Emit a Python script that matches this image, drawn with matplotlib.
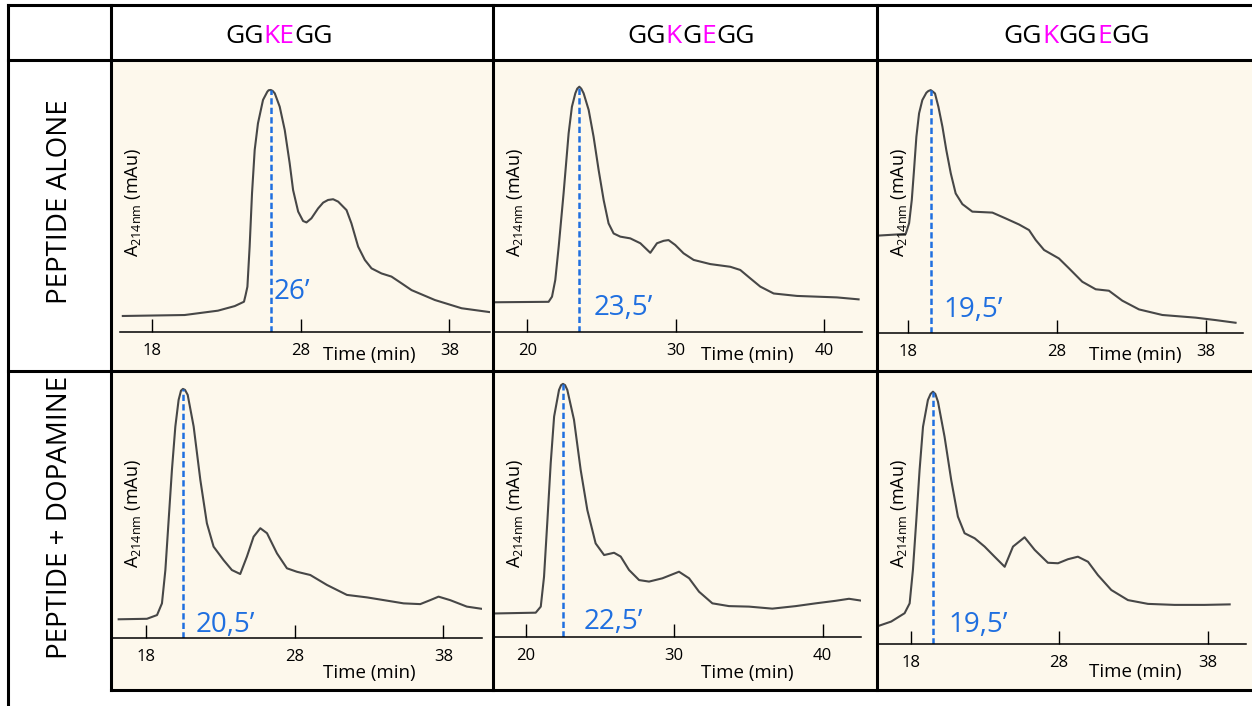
import itertools

import numpy as np
import matplotlib
matplotlib.use("Agg")
import matplotlib.pyplot as plt
from matplotlib.lines import Line2D
from matplotlib.patches import Rectangle

plt.rcParams['font.family'] = ['Open Sans', 'DejaVu Sans']

# columns: peptide sequence, rows: incubation condition
peptides = ["GGKEGG", "GGKGEGG", "GGKGGEGG"]
conditions = ["PEPTIDE ALONE", "PEPTIDE + DOPAMINE"]

# retention time of the main peak (min)
retention = [26.0, 23.5, 19.5, 20.5, 22.5, 19.5]

time_ticks = [[18, 28, 38], [20, 30, 40], [18, 28, 38]]

# chromatograms: time (min) / A214nm in % of the main peak
t_kegg_alone = [16.06, 20.21, 22.45, 23.58, 24.20, 24.31, 24.43, 24.58, 24.74, 24.92,
                25.14, 25.48, 25.77, 25.86, 26.00, 26.13, 26.27, 26.60, 26.94, 27.27,
                27.50, 27.84, 28.17, 28.40, 28.73, 29.18, 29.52, 29.85, 30.19, 30.53,
                31.09, 31.42, 31.87, 32.32, 32.77, 33.44, 34.11, 34.79, 35.46, 37.03,
                38.82, 40.84]
a_kegg_alone = [6.5, 6.9, 8.7, 10.6, 12.4, 15.2, 18.6, 35.2, 57.2, 75.2,
                86.2, 95.9, 99.3, 99.9, 100.0, 99.6, 98.6, 93.1, 83.4, 69.7,
                58.6, 49.7, 45.8, 45.2, 46.9, 51.0, 53.4, 54.5, 54.8, 53.8,
                50.3, 44.8, 35.2, 29.7, 26.2, 24.1, 22.8, 20.0, 17.2, 13.1,
                9.7, 8.0]

t_kgegg_alone = [17.51, 21.43, 21.66, 21.88, 22.11, 22.44, 22.78, 23.00, 23.23, 23.36,
                 23.50, 23.63, 23.79, 24.13, 24.46, 24.80, 25.14, 25.47, 25.81, 26.26,
                 26.93, 27.61, 28.28, 28.73, 29.18, 29.51, 29.96, 30.52, 31.20, 32.32,
                 33.67, 34.34, 35.01, 35.69, 36.59, 38.16, 39.50, 40.85, 42.31]
a_kgegg_alone = [12.0, 12.2, 14.3, 21.1, 34.7, 56.5, 81.0, 91.8, 97.3, 99.2,
                 100.0, 99.2, 97.3, 90.5, 79.6, 66.0, 53.7, 44.2, 40.1, 38.8,
                 38.1, 36.1, 32.2, 36.1, 37.1, 37.4, 35.4, 32.0, 29.3, 27.6,
                 26.5, 25.2, 21.8, 18.4, 15.6, 14.6, 14.3, 14.0, 13.2]

t_kggegg_alone = [15.36, 17.82, 18.05, 18.23, 18.38, 18.54, 18.72, 18.94, 19.21, 19.34,
                  19.50, 19.66, 19.79, 20.02, 20.29, 20.55, 20.85, 21.18, 21.63, 22.30,
                  23.65, 24.54, 25.44, 26.11, 26.56, 27.12, 28.12, 28.80, 29.69, 30.59,
                  31.48, 32.38, 33.50, 35.07, 37.31, 38.65, 39.99]
a_kggegg_alone = [39.8, 40.7, 45.1, 54.7, 67.0, 80.8, 90.4, 95.9, 98.9, 99.6,
                  100.0, 99.3, 98.6, 93.1, 84.9, 75.3, 65.7, 57.4, 53.0, 49.9,
                  49.5, 47.1, 44.6, 42.3, 38.2, 34.1, 30.6, 26.5, 21.0, 17.9,
                  17.3, 13.2, 9.6, 7.3, 6.2, 5.2, 4.1]

t_kegg_dopa = [16.18, 18.08, 18.76, 19.09, 19.32, 19.54, 19.76, 19.99, 20.21, 20.37,
               20.50, 20.64, 20.82, 21.22, 21.67, 22.11, 22.56, 23.23, 23.79, 24.35,
               24.80, 25.25, 25.70, 26.15, 26.82, 27.49, 28.16, 29.06, 30.18, 31.52,
               32.87, 34.21, 35.33, 36.45, 37.12, 37.68, 38.46, 39.58, 40.82]
a_kegg_dopa = [7.4, 7.6, 9.1, 13.8, 27.2, 47.3, 67.4, 84.9, 95.6, 99.3,
               100.0, 99.6, 97.6, 84.9, 63.4, 46.0, 36.6, 31.2, 27.2, 25.6,
               32.6, 40.6, 44.0, 42.0, 33.9, 27.9, 26.5, 25.2, 21.2, 17.2,
               16.2, 14.9, 13.8, 13.5, 15.1, 16.5, 15.1, 12.5, 11.4]

t_kgegg_dopa = [17.96, 20.66, 21.00, 21.22, 21.45, 21.67, 21.90, 22.23, 22.37, 22.50,
                22.64, 22.79, 23.24, 23.69, 24.14, 24.70, 25.27, 25.94, 26.39, 26.95,
                27.63, 28.30, 29.20, 30.32, 31.00, 31.67, 32.57, 33.69, 35.04, 36.61,
                38.19, 39.54, 40.88, 41.78, 43.02]
a_kgegg_dopa = [9.2, 9.5, 11.9, 23.7, 46.2, 68.6, 87.1, 97.6, 99.5, 100.0,
                99.5, 97.6, 85.8, 66.0, 50.1, 36.9, 32.3, 33.2, 31.7, 26.4,
                22.4, 21.8, 23.1, 25.7, 23.1, 17.8, 13.2, 12.1, 11.9, 11.1,
                12.1, 13.2, 14.2, 15.0, 13.9]

t_kggegg_dopa = [14.67, 15.80, 16.69, 17.59, 17.93, 18.15, 18.38, 18.60, 18.83, 19.16,
                 19.34, 19.50, 19.66, 19.84, 20.28, 20.73, 21.18, 21.63, 22.31, 22.98,
                 23.65, 24.33, 24.89, 25.67, 26.35, 27.24, 27.92, 28.59, 29.26, 29.94,
                 30.61, 31.51, 32.63, 33.98, 35.77, 37.79, 39.48]
a_kggegg_dopa = [6.9, 7.1, 8.9, 12.2, 16.1, 29.3, 49.1, 69.0, 86.1, 96.7,
                 99.1, 100.0, 99.1, 96.0, 82.2, 65.0, 50.5, 43.9, 41.9, 38.6,
                 34.6, 30.6, 38.6, 42.3, 37.3, 32.2, 32.0, 33.6, 34.6, 32.6,
                 27.3, 21.4, 17.4, 15.9, 15.5, 15.5, 15.7]

traces = [(t_kegg_alone, a_kegg_alone), (t_kgegg_alone, a_kgegg_alone),
          (t_kggegg_alone, a_kggegg_alone), (t_kegg_dopa, a_kegg_dopa),
          (t_kgegg_dopa, a_kgegg_dopa), (t_kggegg_dopa, a_kggegg_dopa)]

W, H = 1252, 706
BEIGE = '#fdf8ec'
BLUE = '#1f6fe0'
MAGENTA = '#ff00ff'
CURVE = '#474747'

# table grid (pixels)
col_x = [111, 493, 877, 1252]
row_y = [60, 371, 690]

# plot frame per panel: left, right, axis line, top (pixels)
frames = [(120, 490, 331.7, 60), (495, 861.7, 331.7, 60), (878.3, 1243.3, 332.7, 60),
          (113.3, 481.7, 637.7, 371), (493.3, 860.7, 636.7, 371), (878.3, 1245.7, 644, 371)]
xlims = [(15.87, 40.73), (17.82, 42.52), (15.98, 40.51),
         (15.82, 40.58), (17.80, 42.57), (15.82, 40.56)]
ytops = [112.4, 110.9, 112.4, 107.2, 105.1, 108.2]
label_off = [(3, 33), (14, 17), (13, 16), (13, 6), (21, 8), (15, 12)]
time_pos = [(369, 355), (747, 355), (1135, 355), (369, 673), (747, 673), (1135, 672)]
title_pos = [(279, 43), (691, 43), (1077, 43)]
cond_pos = [(60, 202), (60, 517)]


def fx(x):
    return x / W


def fy(y):
    return 1 - y / H


def rt_label(v):
    return f"{v:g}".replace(".", ",") + "\u2019"


fig = plt.figure(figsize=(W / 100, H / 100), dpi=100)

# beige background of the chromatogram cells
for r in range(2):
    for c in range(3):
        fig.add_artist(Rectangle((fx(col_x[c]), fy(row_y[r + 1])),
                                 (col_x[c + 1] - col_x[c]) / W,
                                 (row_y[r + 1] - row_y[r]) / H,
                                 transform=fig.transFigure, facecolor=BEIGE,
                                 edgecolor='none', zorder=0))

for i, (t, a) in enumerate(traces):
    row, col = divmod(i, 3)
    l, r, yb, yt = frames[i]
    ax = fig.add_axes([fx(l), fy(yb), (r - l) / W, (yb - yt) / H])
    ax.set_facecolor('none')
    ax.plot(t, a, color=CURVE, lw=1.5, solid_joinstyle='round')

    # dashed marker from baseline up to the main peak
    ax.plot([retention[i], retention[i]], [0, max(a)], color=BLUE, lw=1.8,
            ls=(0, (2.5, 1.3)))
    dx, dy = label_off[i]
    ax.annotate(rt_label(retention[i]), xy=(retention[i], 0), xytext=(dx, dy),
                textcoords='offset pixels', color=BLUE, fontsize=20,
                ha='left', va='baseline', annotation_clip=False)

    ax.set_xlim(*xlims[i])
    ax.set_ylim(0, ytops[i])
    ax.set_xticks(time_ticks[col])
    ax.tick_params(axis='x', direction='in', length=9.5, width=1, pad=8,
                   labelsize=12, colors='black')
    ax.set_yticks([])
    for s in ['top', 'left', 'right']:
        ax.spines[s].set_visible(False)
    ax.spines['bottom'].set_linewidth(1.1)

    tx, ty = time_pos[i]
    fig.text(fx(tx), fy(ty), "Time (min)", fontsize=13.5, ha='center', va='center')
    fig.text(fx(col_x[col] + 22), fy(row_y[row] + 143),
             r"A$_{\mathregular{214nm}}$ (mAu)", fontsize=13, rotation=90,
             ha='center', va='center')

# column headers, lysine and glutamate highlighted
renderer = fig.canvas.get_renderer()
for word, (xc, yb) in zip(peptides, title_pos):
    runs = [("".join(g), k) for k, g in itertools.groupby(word, key=lambda ch: ch in "KE")]
    parts = [fig.text(0, fy(yb), s, fontsize=19, va='baseline', ha='left',
                      color=MAGENTA if hl else 'black') for s, hl in runs]
    widths = [p.get_window_extent(renderer).width for p in parts]
    x = xc - sum(widths) / 2
    for p, w in zip(parts, widths):
        p.set_x(fx(x))
        x += w

for label, (xc, yc) in zip(conditions, cond_pos):
    fig.text(fx(xc), fy(yc), label, fontsize=20, rotation=90, ha='center', va='center')

# table borders
borders = [(8, 5, 1252, 5), (8, 60, 1252, 60), (8, 371, 1252, 371), (111, 690, 1252, 690),
           (8, 5, 8, 706), (111, 5, 111, 690), (493, 5, 493, 690), (877, 5, 877, 690)]
for x0, y0, x1, y1 in borders:
    fig.add_artist(Line2D([fx(x0), fx(x1)], [fy(y0), fy(y1)], transform=fig.transFigure,
                          color='black', lw=2.2, solid_capstyle='projecting', zorder=5))

fig.savefig('out.png', dpi=100)
